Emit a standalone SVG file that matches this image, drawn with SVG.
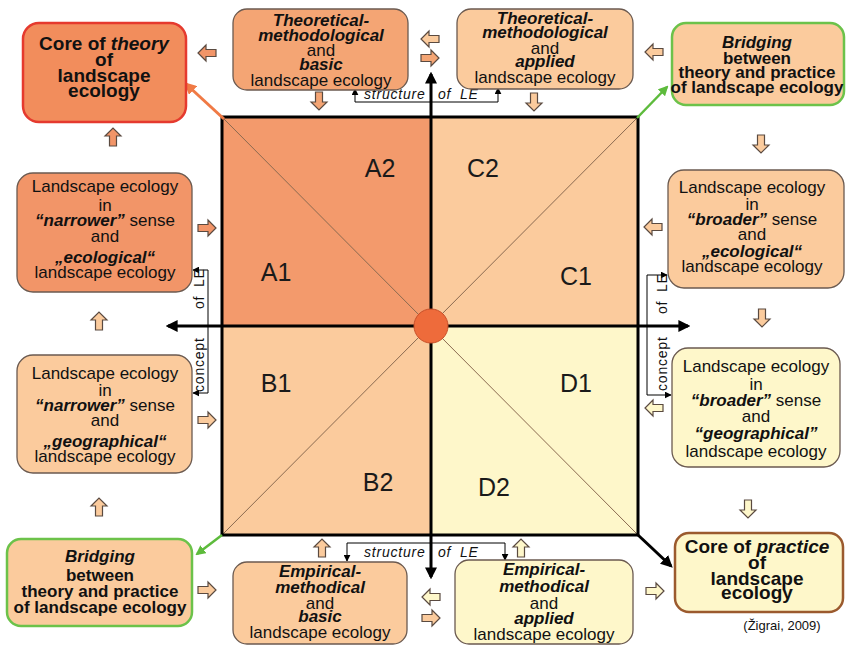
<svg xmlns="http://www.w3.org/2000/svg" xmlns:xlink="http://www.w3.org/1999/xlink" width="846" height="645" viewBox="0 0 846 645">
<style>
text{font-family:"Liberation Sans",Arial,sans-serif;fill:#111;}
.t{font-size:17px;text-anchor:middle;}
.b{font-weight:bold;}
.bi{font-weight:bold;font-style:italic;}
.core{font-size:19px;font-weight:bold;text-anchor:middle;}
.q{font-size:25px;text-anchor:middle;fill:#1a1a1a;}
.lbl{font-size:14px;letter-spacing:0.8px;}
.lbli{font-size:14px;letter-spacing:0.8px;font-style:italic;}
.box{stroke:#6b5a50;stroke-width:1.3;}
.or{fill:#F29568;}
.mo{fill:#F4A574;}
.lo{fill:#FBCB9D;}
.ye{fill:#FEF7CA;}
.diag{stroke:#8a6a50;stroke-width:1;}
.axis{stroke:#000;stroke-width:3;fill:none;}
.br{stroke:#000;stroke-width:1;fill:none;}
</style>
<defs>
<path id="rarr" d="M-9,-3.5 H1 V-8 L9,0 L1,8 V3.5 H-9 Z" stroke="#5a4a40" stroke-width="1.2"/>
<marker id="mk" viewBox="0 0 10 10" refX="8" refY="5" markerWidth="4" markerHeight="4.5" orient="auto-start-reverse"><path d="M0,0 L10,5 L0,10 z" fill="#000"/></marker>
<marker id="mo" viewBox="0 0 10 10" refX="8" refY="5" markerWidth="4" markerHeight="4" orient="auto"><path d="M0,0 L10,5 L0,10 z" fill="#F07A45"/></marker>
<marker id="mg" viewBox="0 0 10 10" refX="8" refY="5" markerWidth="4" markerHeight="4" orient="auto"><path d="M0,0 L10,5 L0,10 z" fill="#5DBB3C"/></marker>
<marker id="ms" viewBox="0 0 10 10" refX="9" refY="5" markerWidth="7" markerHeight="7" markerUnits="userSpaceOnUse" orient="auto"><path d="M0,0 L10,5 L0,10 z" fill="#000"/></marker>
</defs>
<rect width="846" height="645" fill="#fff"/>

<g id="quadrants">
<rect x="222" y="117" width="209" height="209" fill="#F39A6C"/>
<rect x="431" y="117" width="207" height="209" fill="#FBCB9D"/>
<rect x="222" y="326" width="209" height="209" fill="#FBCB9D"/>
<rect x="431" y="326" width="207" height="209" fill="#FEF7CA"/>
<line class="diag" x1="222" y1="117" x2="638" y2="535"/>
<line class="diag" x1="638" y1="117" x2="222" y2="535"/>
<rect x="222" y="117" width="416" height="418" fill="none" stroke="#000" stroke-width="3"/>
<text class="q" x="380" y="177">A2</text>
<text class="q" x="483" y="177">C2</text>
<text class="q" x="276" y="281">A1</text>
<text class="q" x="576" y="285">C1</text>
<text class="q" x="276" y="392">B1</text>
<text class="q" x="576" y="392">D1</text>
<text class="q" x="378" y="491">B2</text>
<text class="q" x="494" y="496">D2</text>
</g>

<g id="connectors">
<line class="axis" x1="431" y1="577" x2="431" y2="74" marker-start="url(#mk)" marker-end="url(#mk)"/>
<line class="axis" x1="688" y1="326" x2="168" y2="326" marker-start="url(#mk)" marker-end="url(#mk)"/>
<line x1="224" y1="119" x2="186" y2="84" stroke="#F07A45" stroke-width="3" marker-end="url(#mo)"/>
<line x1="637" y1="118" x2="667" y2="87" stroke="#5DBB3C" stroke-width="2.5" marker-end="url(#mg)"/>
<line x1="222" y1="535" x2="197" y2="554" stroke="#5DBB3C" stroke-width="2.5" marker-end="url(#mg)"/>
<line x1="638" y1="535" x2="671" y2="566" stroke="#000" stroke-width="3" marker-end="url(#mk)"/>
<polyline class="br" points="355,102 498,102"/>
<line class="br" x1="355" y1="102" x2="355" y2="89" marker-end="url(#ms)"/>
<line class="br" x1="498" y1="102" x2="498" y2="88" marker-end="url(#ms)"/>
<polyline class="br" points="347,543 505,543"/>
<line class="br" x1="347" y1="543" x2="347" y2="561" marker-end="url(#ms)"/>
<line class="br" x1="505" y1="543" x2="505" y2="560" marker-end="url(#ms)"/>
<line class="br" x1="208" y1="270" x2="208" y2="393"/>
<line class="br" x1="208" y1="270" x2="193" y2="270" marker-end="url(#ms)"/>
<line class="br" x1="208" y1="393" x2="193" y2="393" marker-end="url(#ms)"/>
<line class="br" x1="647" y1="275" x2="647" y2="395"/>
<line class="br" x1="647" y1="275" x2="667" y2="275" marker-end="url(#ms)"/>
<line class="br" x1="647" y1="395" x2="671" y2="395" marker-end="url(#ms)"/>
<text class="lbli" x="364" y="99">structure</text>
<text class="lbli" x="438" y="99" word-spacing="4">of LE</text>
<text class="lbli" x="364" y="557">structure</text>
<text class="lbli" x="438" y="557" word-spacing="4">of LE</text>
<text class="lbl" transform="translate(204,392) rotate(-90)">concept</text>
<text class="lbl" transform="translate(204,309) rotate(-90)" word-spacing="4">of LE</text>
<text class="lbl" transform="translate(667,391) rotate(-90)">concept</text>
<text class="lbl" transform="translate(667,314) rotate(-90)" word-spacing="4">of LE</text>
<use href="#rarr" transform="translate(207,53) rotate(180)" fill="#F29568"/>
<use href="#rarr" transform="translate(430,39) rotate(180)" fill="#FBCB9D"/>
<use href="#rarr" transform="translate(430,58)" fill="#F4A574"/>
<use href="#rarr" transform="translate(654,52) rotate(180)" fill="#FBCB9D"/>
<use href="#rarr" transform="translate(319,101) rotate(90)" fill="#F4A574"/>
<use href="#rarr" transform="translate(534,102) rotate(90)" fill="#FBCB9D"/>
<use href="#rarr" transform="translate(113,137) rotate(-90)" fill="#F29568"/>
<use href="#rarr" transform="translate(761,144) rotate(90)" fill="#FBCB9D"/>
<use href="#rarr" transform="translate(207,228)" fill="#F29568"/>
<use href="#rarr" transform="translate(99,321) rotate(-90)" fill="#FBCB9D"/>
<use href="#rarr" transform="translate(207,420)" fill="#FBCB9D"/>
<use href="#rarr" transform="translate(99,507) rotate(-90)" fill="#FBCB9D"/>
<use href="#rarr" transform="translate(207,590)" fill="#FBCB9D"/>
<use href="#rarr" transform="translate(653,227) rotate(180)" fill="#FBCB9D"/>
<use href="#rarr" transform="translate(762,318) rotate(90)" fill="#FBCB9D"/>
<use href="#rarr" transform="translate(654,408) rotate(180)" fill="#FEF7CA"/>
<use href="#rarr" transform="translate(748,509) rotate(90)" fill="#FEF7CA"/>
<use href="#rarr" transform="translate(322,548) rotate(-90)" fill="#FBCB9D"/>
<use href="#rarr" transform="translate(521,548) rotate(-90)" fill="#FEF7CA"/>
<use href="#rarr" transform="translate(431,597) rotate(180)" fill="#FEF7CA"/>
<use href="#rarr" transform="translate(431,618)" fill="#FBCB9D"/>
<use href="#rarr" transform="translate(655,591)" fill="#FEF7CA"/>
</g>

<g id="center">
<circle cx="431" cy="326" r="17" fill="#EE6B3B" stroke="#C8502A" stroke-width="1"/>
</g>

<g id="core-theory">
<rect x="23" y="23" width="163" height="99" rx="16" fill="#F28D5C" stroke="#E53A2E" stroke-width="2.5"/>
<text class="core" x="104" y="50">Core of <tspan font-style="italic">theory</tspan></text>
<text class="core" x="104" y="66">of</text>
<text class="core" x="104" y="82">landscape</text>
<text class="core" x="104" y="97">ecology</text>
</g>

<g id="theo-basic">
<rect class="box mo" x="233" y="9" width="175" height="81" rx="14"/>
<text class="t bi" x="321" y="26">Theoretical-</text>
<text class="t bi" x="321" y="41">methodological</text>
<text class="t" x="321" y="56">and</text>
<text class="t bi" x="321" y="70">basic</text>
<text class="t" x="321" y="86">landscape ecology</text>
</g>

<g id="theo-applied">
<rect class="box lo" x="457" y="9" width="176" height="80" rx="14"/>
<text class="t bi" x="545" y="24">Theoretical-</text>
<text class="t bi" x="545" y="38">methodological</text>
<text class="t" x="545" y="54">and</text>
<text class="t bi" x="545" y="67">applied</text>
<text class="t" x="545" y="83">landscape ecology</text>
</g>

<g id="bridging-top">
<rect x="672" y="23" width="172" height="82" rx="14" fill="#FBCB9D" stroke="#6CC24A" stroke-width="2.5"/>
<text class="t bi" x="757" y="48">Bridging</text>
<text class="t b" x="757" y="64">between</text>
<text class="t b" x="757" y="78">theory and practice</text>
<text class="t b" x="757" y="93">of landscape ecology</text>
</g>

<g id="narrower-ecological">
<rect class="box or" x="17" y="173" width="175" height="119" rx="16"/>
<text class="t" x="105" y="192">Landscape ecology</text>
<text class="t" x="105" y="211">in</text>
<text class="t" x="105" y="226"><tspan class="bi">“narrower”</tspan> sense</text>
<text class="t" x="105" y="242">and</text>
<text class="t bi" x="105" y="263">„ecological“</text>
<text class="t" x="105" y="278">landscape ecology</text>
</g>

<g id="narrower-geographical">
<rect class="box lo" x="17" y="355" width="175" height="118" rx="16"/>
<text class="t" x="105" y="379">Landscape ecology</text>
<text class="t" x="105" y="396">in</text>
<text class="t" x="105" y="411"><tspan class="bi">“narrower”</tspan> sense</text>
<text class="t" x="105" y="426">and</text>
<text class="t bi" x="105" y="447">„geographical“</text>
<text class="t" x="105" y="462">landscape ecology</text>
</g>

<g id="broader-ecological">
<rect class="box lo" x="668" y="170" width="176" height="118" rx="16"/>
<text class="t" x="752" y="193">Landscape ecology</text>
<text class="t" x="752" y="210">in</text>
<text class="t" x="752" y="225"><tspan class="bi">“broader”</tspan> sense</text>
<text class="t" x="752" y="240">and</text>
<text class="t bi" x="752" y="257">„ecological“</text>
<text class="t" x="752" y="272">landscape ecology</text>
</g>

<g id="broader-geographical">
<rect class="box ye" x="672" y="348" width="168" height="119" rx="16"/>
<text class="t" x="756" y="372">Landscape ecology</text>
<text class="t" x="756" y="390">in</text>
<text class="t" x="756" y="406"><tspan class="bi">“broader”</tspan> sense</text>
<text class="t" x="756" y="422">and</text>
<text class="t bi" x="756" y="439">“geographical”</text>
<text class="t" x="756" y="457">landscape ecology</text>
</g>

<g id="bridging-bottom">
<rect x="7" y="539" width="185" height="87" rx="14" fill="#FBCB9D" stroke="#6CC24A" stroke-width="2.5"/>
<text class="t bi" x="100" y="562">Bridging</text>
<text class="t b" x="100" y="581">between</text>
<text class="t b" x="100" y="597">theory and practice</text>
<text class="t b" x="100" y="613">of landscape ecology</text>
</g>

<g id="emp-basic">
<rect class="box lo" x="233" y="562" width="174" height="82" rx="14"/>
<text class="t bi" x="320" y="577">Empirical-</text>
<text class="t bi" x="320" y="593">methodical</text>
<text class="t" x="320" y="609">and</text>
<text class="t bi" x="320" y="622">basic</text>
<text class="t" x="320" y="638">landscape ecology</text>
</g>

<g id="emp-applied">
<rect class="box ye" x="455" y="560" width="178" height="84" rx="14"/>
<text class="t bi" x="544" y="575">Empirical-</text>
<text class="t bi" x="544" y="592">methodical</text>
<text class="t" x="544" y="609">and</text>
<text class="t bi" x="544" y="624">applied</text>
<text class="t" x="544" y="640">landscape ecology</text>
</g>

<g id="core-practice">
<rect x="675" y="533" width="168" height="79" rx="14" fill="#FEF7CA" stroke="#9B5A2E" stroke-width="2.5"/>
<text class="core" x="757" y="553">Core of <tspan font-style="italic">practice</tspan></text>
<text class="core" x="757" y="569">of</text>
<text class="core" x="757" y="585">landscape</text>
<text class="core" x="757" y="599">ecology</text>
</g>

<text x="782" y="630" font-size="13" text-anchor="middle">(Žigrai, 2009)</text>
</svg>
